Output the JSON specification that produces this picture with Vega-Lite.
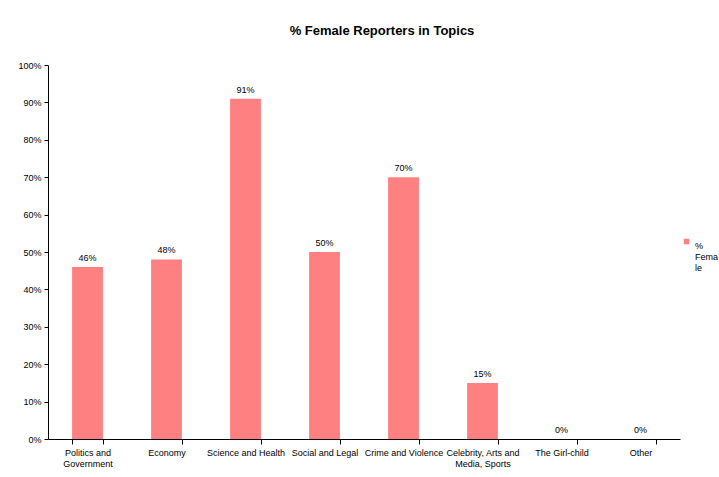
{
  "$schema": "https://vega.github.io/schema/vega-lite/v6.json",
  "autosize": {"type": "none"},
  "width": 632,
  "height": 374,
  "padding": {"left": 48, "top": 65, "right": 39, "bottom": 38},
  "background": "white",
  "config": {
    "font": "Liberation Sans",
    "view": {"stroke": null}
  },
  "title": {
    "text": "% Female Reporters in Topics",
    "font": "Liberation Sans",
    "fontSize": 13,
    "fontWeight": "bold",
    "color": "black",
    "anchor": "middle",
    "dx": 18,
    "offset": 23
  },
  "data": {
    "values": [
      {"topic": "Politics and Government", "label": "Politics and|Government", "series": "% Female", "value": 0.46},
      {"topic": "Economy", "label": "Economy", "series": "% Female", "value": 0.48},
      {"topic": "Science and Health", "label": "Science and Health", "series": "% Female", "value": 0.91},
      {"topic": "Social and Legal", "label": "Social and Legal", "series": "% Female", "value": 0.50},
      {"topic": "Crime and Violence", "label": "Crime and Violence", "series": "% Female", "value": 0.70},
      {"topic": "Celebrity, Arts and Media, Sports", "label": "Celebrity, Arts and|Media, Sports", "series": "% Female", "value": 0.15},
      {"topic": "The Girl-child", "label": "The Girl-child", "series": "% Female", "value": 0.0},
      {"topic": "Other", "label": "Other", "series": "% Female", "value": 0.0}
    ]
  },
  "encoding": {
    "x": {
      "field": "label",
      "type": "nominal",
      "sort": null,
      "scale": {"paddingInner": 0.61, "paddingOuter": 0.305},
      "axis": {
        "title": null,
        "labelAngle": 0,
        "labelExpr": "split(datum.label, '|')",
        "labelFontSize": 9,
        "labelColor": "black",
        "labelPadding": 4,
        "labelLineHeight": 11,
        "labelLimit": 200,
        "tickBand": "extent",
        "tickColor": "black",
        "tickSize": 5,
        "domainColor": "black",
        "labelBaseline": "top"
      }
    },
    "y": {
      "field": "value",
      "type": "quantitative",
      "scale": {"domain": [0, 1], "nice": false},
      "axis": {
        "title": null,
        "values": [0, 0.1, 0.2, 0.3, 0.4, 0.5, 0.6, 0.7, 0.8, 0.9, 1.0],
        "format": ".0%",
        "grid": false,
        "labelFontSize": 9,
        "labelColor": "black",
        "tickColor": "black",
        "tickSize": 4,
        "labelPadding": 3,
        "domainColor": "black"
      }
    }
  },
  "layer": [
    {
      "mark": {"type": "bar", "color": "#FF8080"},
      "encoding": {
        "color": {
          "field": "series",
          "type": "nominal",
          "scale": {"range": ["#FF8080"]},
          "legend": {
            "title": null,
            "orient": "none",
            "legendX": 634,
            "legendY": 172,
            "symbolType": "square",
            "symbolSize": 30,
            "labelFontSize": 9,
            "labelColor": "black",
            "labelExpr": "['%', 'Fema', 'le']",
            "labelLineHeight": 12,
            "labelBaseline": "top",
            "labelOffset": 4
          }
        }
      }
    },
    {
      "mark": {"type": "text", "dy": -9, "fontSize": 9, "color": "black"},
      "encoding": {
        "text": {"field": "value", "type": "quantitative", "format": ".0%"}
      }
    }
  ]
}
